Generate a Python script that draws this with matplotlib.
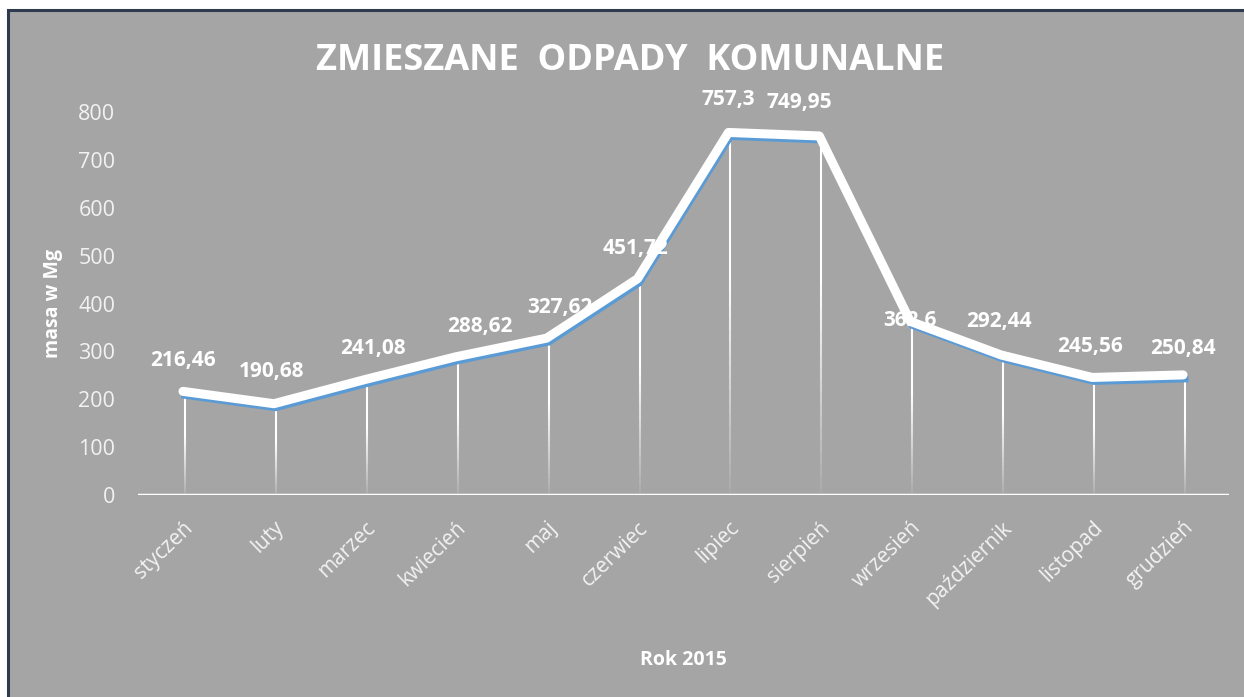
import matplotlib

matplotlib.use("Agg")
import matplotlib.pyplot as plt  # noqa: E402
import numpy as np  # noqa: E402
from matplotlib.collections import LineCollection  # noqa: E402
from matplotlib.patches import Rectangle  # noqa: E402
from matplotlib.transforms import offset_copy  # noqa: E402

months = ["styczeń", "luty", "marzec", "kwiecień", "maj", "czerwiec",
          "lipiec", "sierpień", "wrzesień", "październik", "listopad", "grudzień"]
values = [216.46, 190.68, 241.08, 288.62, 327.62, 451.72,
          757.3, 749.95, 362.6, 292.44, 245.56, 250.84]
value_labels = ["216,46", "190,68", "241,08", "288,62", "327,62", "451,72",
                "757,3", "749,95", "362,6", "292,44", "245,56", "250,84"]
y_ticks = [0, 100, 200, 300, 400, 500, 600, 700, 800]

# label nudges in pixels (Excel placed some of them off-centre)
label_dx = [0, -2, 8, 24, 13, -2, 0, -20, 0, -2, -2, 0]
label_dy = [31, 32, 31, 30, 31, 30, 33, 33, 1, 33, 31, 26]

BG = "#a5a5a5"
TXT = "#f2f2f2"
BLUE = "#5b9bd5"
FONT = "Open Sans"

W, H = 1244, 697
fig = plt.figure(figsize=(W / 100, H / 100), dpi=100)
fig.patch.set_facecolor("white")
fig.patches.append(Rectangle((8 / W, -0.05), 1.1, 1 - 10 / H + 0.05, transform=fig.transFigure,
                             facecolor=BG, edgecolor="#2f3b4c", linewidth=2.2, zorder=-5))

left, right = 137.5 / W, 1228.5 / W
bottom, top = 1 - 495 / H, 1 - 112 / H
ax = fig.add_axes([left, bottom, right - left, top - bottom])
ax.set_facecolor("none")
for s in ax.spines.values():
    s.set_visible(False)

x = np.arange(len(months))
ax.set_xlim(-0.5, len(months) - 0.5)
ax.set_ylim(0, 800)

shadow = offset_copy(ax.transData, fig=fig, x=2, y=-4, units="dots")

# drop lines fading toward the axis
n_seg = 30
for xi, v in zip(x, values):
    ys = np.linspace(0, v, n_seg + 1)
    segs = [[(xi, ys[k]), (xi, ys[k + 1])] for k in range(n_seg)]
    alphas = np.clip(np.linspace(0.05, 1.6, n_seg), 0, 1)
    cols = [(1, 1, 1, a) for a in alphas]
    lc = LineCollection(segs, colors=cols, linewidths=1.5, transform=shadow, zorder=2)
    ax.add_collection(lc)

ax.plot(x, values, color=BLUE, linewidth=5, solid_joinstyle="miter", transform=shadow,
        zorder=3, clip_on=False)
ax.plot(x, values, color="white", linewidth=6.5, solid_capstyle="round", solid_joinstyle="round",
        zorder=4, clip_on=False)

ax.axhline(0, color="white", linewidth=2.5, zorder=5)

for xi, v, lab, dx, dy in zip(x, values, value_labels, label_dx, label_dy):
    ax.annotate(lab, (xi, v), xytext=(dx, dy), textcoords="offset pixels",
                ha="center", va="center", color="white", fontsize=15,
                fontweight="bold", family=FONT, zorder=6, annotation_clip=False)

ax.set_yticks(y_ticks)
ax.set_yticklabels([str(t) for t in y_ticks], color=TXT, fontsize=15.5, family=FONT)
ax.set_xticks(x)
ax.set_xticklabels(months, rotation=44, ha="right", va="top", rotation_mode="anchor",
                   color=TXT, fontsize=15, family=FONT)
ax.tick_params(axis="both", length=0)
ax.tick_params(axis="y", pad=16)
ax.tick_params(axis="x", pad=16)

ax.set_ylabel("masa w Mg", color="white", fontsize=14, fontweight="bold", family=FONT)
ax.yaxis.set_label_coords((63 - 137.5) / (1228.5 - 137.5), 0.5)
fig.text(683 / W, 1 - 660 / H, "Rok 2015", color="white", fontsize=14, fontweight="bold",
         family=FONT, ha="center", va="center")
fig.text(630 / W, 1 - 61 / H, "ZMIESZANE  ODPADY  KOMUNALNE",
         color="white", fontsize=26, fontweight="bold", family=FONT, ha="center", va="center")

fig.savefig("out.png", dpi=100, facecolor=fig.get_facecolor())
